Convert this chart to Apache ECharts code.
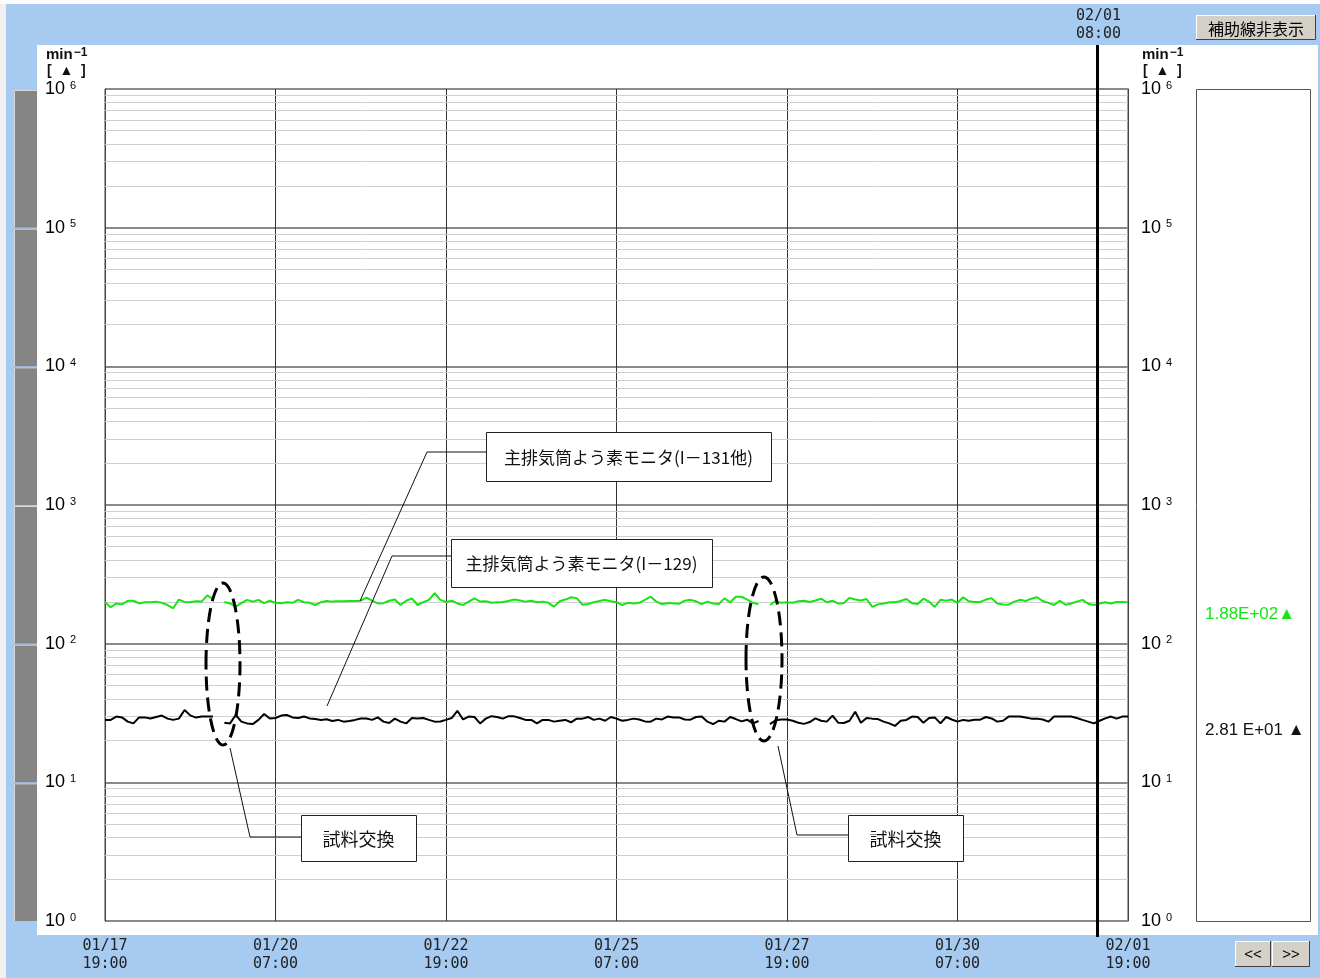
<!DOCTYPE html>
<html>
<head>
<meta charset="utf-8">
<script src="https://cdn.jsdelivr.net/npm/echarts@6/dist/echarts.min.js"></script>
<style>
html,body{margin:0;padding:0;background:#a6caf0;}
#main{width:1320px;height:978px;}
</style>
</head>
<body>
<div id="main"></div>
<script>
var chartDom = document.getElementById('main');
var myChart = echarts.init(chartDom);

// x = hours since 01/17 19:00, one sample every 2 hours
var stepHours = 2;
var xLabels = ['01/17\n19:00', '01/20\n07:00', '01/22\n19:00', '01/25\n07:00', '01/27\n19:00', '01/30\n07:00', '02/01\n19:00'];
var cursorHour = 349;
var cursorLabel = '02/01\n08:00';

// min^-1 (null = sample exchange)
var i131 = [199,183,195,192,204,204,195,199,199,201,197,190,180,208,200,199,202,201,223,210,
  null,
  200,195,185,196,207,201,207,196,204,197,196,199,197,207,199,197,190,199,203,201,202,202,203,203,204,215,204,195,196,204,208,190,204,212,190,199,207,231,207,200,204,195,
  190,201,212,201,202,197,199,200,203,208,205,201,204,199,201,197,185,202,208,216,213,191,193,199,203,207,202,199,190,197,195,197,207,218,201,193,196,196,194,204,207,202,193,201,195,193,212,199,218,218,208,197,192,
  null,
  190,203,197,199,197,
  202,204,200,205,211,199,204,195,196,214,208,205,210,184,192,195,199,199,203,210,196,193,211,201,184,207,204,208,197,216,202,200,200,208,213,195,192,191,201,207,203,211,216,203,197,190,204,191,195,201,207,194,190,195,199,195,200,200,199];

var i129 = [28.2,28.2,29.8,29.4,27.4,26.6,29.4,29.4,28.9,29.6,30.3,28.8,28.2,28.8,33.2,30.4,29.3,29.8,29.8,29.8,
  null,
  26.9,26.6,30.6,27.4,26.6,26.3,28.2,31.1,28.9,29.1,30.3,30.6,29.4,29.1,29.8,28.9,28.6,28.2,28.5,27.7,28.2,27.4,27.7,28.2,28.9,28.9,28.2,29.4,27.4,26.8,28.8,27.4,26.6,29.1,28.9,29.1,28.2,27.4,27.5,28.2,29.1,32.8,
  28.4,29.8,29.6,26.6,28.8,30.0,29.6,28.8,30.0,29.9,29.1,28.2,28.2,26.6,28.2,28.2,27.4,27.8,28.2,27.1,28.8,28.8,29.6,28.2,28.8,27.8,29.6,28.8,27.8,28.2,28.8,28.4,27.5,27.4,28.8,28.4,29.8,29.3,29.4,28.4,28.3,29.6,29.8,27.4,26.3,27.8,27.4,29.6,28.6,27.5,28.3,26.6,27.7,
  null,
  26.3,28.0,28.4,28.4,27.8,
  26.9,26.4,27.2,28.9,27.8,27.4,30.3,26.9,26.8,27.8,32.3,26.9,29.1,28.8,28.6,27.4,26.6,25.5,27.8,28.2,29.8,29.6,26.9,29.1,29.4,26.6,29.6,28.4,27.4,28.2,27.8,28.3,28.3,29.6,28.9,27.4,27.8,29.8,29.8,29.8,29.3,28.8,28.8,28.4,27.4,29.8,29.8,29.8,29.8,29.1,28.2,27.4,26.6,27.8,28.9,29.8,28.8,29.8,29.8];

var readout131 = 1.88e2, readoutText131 = '1.88E+02▲';
var readout129 = 2.81e1, readoutText129 = '2.81 E+01 ▲';
var name131 = '主排気筒よう素モニタ(I－131他)';
var name129 = '主排気筒よう素モニタ(I－129)';
var exchangeText = '試料交換';

// 2..9 x 10^k helper lines of the log grid
var minorGrid = [];
for (var k = 0; k < 6; k++) {
  for (var m = 2; m <= 9; m++) minorGrid.push(m * Math.pow(10, k));
}

var GREEN = '#14e614';
var sansFont = '"Liberation Sans", Arial, sans-serif';
var jpFont = '"Noto Sans CJK JP", sans-serif';
var monoFont = '"DejaVu Sans Mono", monospace';

function toPairs(arr) {
  return arr.map(function (v, i) { return [i * stepHours, v]; });
}

function logLabel(v) {
  return '{b|10}{s|' + Math.round(Math.log10(v)) + '}';
}
var logRich = {
  b: { fontSize: 18, fontFamily: sansFont, color: '#000', lineHeight: 18 },
  s: { fontSize: 11, fontFamily: sansFont, color: '#000', lineHeight: 11, verticalAlign: 'top', padding: [0, 0, 0, 5] }
};

var option = {
  backgroundColor: '#a6caf0',
  animation: false,
  grid: { left: 105, top: 89, width: 1023, height: 832, show: true, borderColor: '#444', borderWidth: 1 },
  xAxis: {
    type: 'value', min: 0, max: 360, interval: 60,
    axisLine: { show: false }, axisTick: { show: false },
    splitLine: { show: true, lineStyle: { color: '#333', width: 1 } },
    axisLabel: {
      margin: 16, showMinLabel: true, showMaxLabel: true,
      fontFamily: monoFont, fontSize: 15, lineHeight: 18, color: '#222',
      formatter: function (v) { return xLabels[Math.round(v / 60)]; }
    }
  },
  yAxis: [
    {
      type: 'log', logBase: 10, min: 1, max: 1000000, splitNumber: 6,
      axisLine: { show: true, lineStyle: { color: '#444' } }, axisTick: { show: false },
      splitLine: { show: true, lineStyle: { color: '#8a8a8a', width: 2 } },
      axisLabel: { align: 'left', margin: 60, formatter: logLabel, rich: logRich }
    },
    {
      type: 'log', logBase: 10, min: 1, max: 1000000, splitNumber: 6, position: 'right',
      axisLine: { show: true, lineStyle: { color: '#444' } }, axisTick: { show: false },
      splitLine: { show: false },
      axisLabel: { align: 'left', margin: 13, formatter: logLabel, rich: logRich }
    }
  ],
  series: [
    {
      name: 'minor', type: 'line', data: [], silent: true, z: 1,
      markLine: {
        silent: true, symbol: ['none', 'none'], label: { show: false },
        lineStyle: { color: '#cfcfcf', width: 1, type: 'solid' },
        emphasis: { disabled: true },
        data: minorGrid.map(function (v) { return { yAxis: v }; })
      }
    },
    {
      name: name131, type: 'line', data: toPairs(i131), showSymbol: false, connectNulls: false, z: 5,
      lineStyle: { color: GREEN, width: 2 }, itemStyle: { color: GREEN }
    },
    {
      name: name129, type: 'line', data: toPairs(i129), showSymbol: false, connectNulls: false, z: 5,
      lineStyle: { color: '#000', width: 2 }, itemStyle: { color: '#000' }
    }
  ]
};
myChart.setOption(option);

function xPx(h) { return myChart.convertToPixel({ xAxisIndex: 0 }, h); }
function yPx(v) { return myChart.convertToPixel({ yAxisIndex: 0 }, v); }

var g = [];
function txt(x, y, text, font, fill, align, valign, z, rich, lineHeight) {
  var st = { text: text, font: font, fill: fill, align: align, verticalAlign: valign };
  if (rich) st.rich = rich;
  if (lineHeight) st.lineHeight = lineHeight;
  g.push({ type: 'text', x: x, y: y, z: z || 60, style: st, silent: true });
}
function button(x, y, w, h, text, font) {
  g.push({ type: 'rect', z: 60, shape: { x: x, y: y, width: w, height: h }, style: { fill: '#d4d0c8' } });
  g.push({ type: 'polyline', z: 61, shape: { points: [[x + 0.5, y + h], [x + 0.5, y + 0.5], [x + w, y + 0.5]] }, style: { stroke: '#ffffff', fill: null } });
  g.push({ type: 'polyline', z: 61, shape: { points: [[x, y + h - 0.5], [x + w - 0.5, y + h - 0.5], [x + w - 0.5, y]] }, style: { stroke: '#404040', fill: null } });
  txt(x + w / 2, y + h / 2 + 1, text, font, '#000', 'center', 'middle', 62);
}
function callout(x, y, w, h, text, font, points) {
  g.push({ type: 'polyline', z: 50, shape: { points: points }, style: { stroke: '#111', lineWidth: 1, fill: null } });
  g.push({ type: 'rect', z: 51, shape: { x: x + 0.5, y: y + 0.5, width: w, height: h }, style: { fill: '#fff', stroke: '#222', lineWidth: 1 } });
  txt(x + w / 2, y + h / 2 + 1, text, font, '#111', 'center', 'middle', 52);
}

// frame of the window
g.push({ type: 'rect', z: -10, shape: { x: 37, y: 45, width: 1281, height: 890 }, style: { fill: '#fff' } });
g.push({ type: 'rect', z: -10, shape: { x: 0, y: 0, width: 6, height: 978 }, style: { fill: '#f0f0f0' } });
g.push({ type: 'rect', z: -10, shape: { x: 0, y: 0, width: 1320, height: 4 }, style: { fill: '#fcfcfc' } });

// left scroll segments, one per decade
for (var d = 0; d < 6; d++) {
  var segTop = yPx(Math.pow(10, d + 1)), segBot = yPx(Math.pow(10, d));
  g.push({ type: 'rect', z: 1, shape: { x: 14, y: segTop, width: 23, height: segBot - segTop }, style: { fill: '#858585' } });
  g.push({ type: 'polyline', z: 2, shape: { points: [[14.5, segBot], [14.5, segTop + 1.5], [37, segTop + 1.5]] }, style: { stroke: '#d8d8d8', lineWidth: 1, fill: null } });
  g.push({ type: 'line', z: 2, shape: { x1: 14, y1: segTop + 0.5, x2: 37, y2: segTop + 0.5 }, style: { stroke: '#a6caf0', lineWidth: 1 } });
}

// unit labels
var unitRich = {
  m: { fontSize: 15, fontWeight: 'bold', fontFamily: sansFont, fill: '#111', lineHeight: 16 },
  s: { fontSize: 12, fontWeight: 'bold', fontFamily: sansFont, fill: '#111', lineHeight: 10, verticalAlign: 'top', padding: [0, 0, 0, 1] }
};
[46, 1142].forEach(function (ux) {
  txt(ux, 47, '{m|min}{s|−1}', '15px ' + sansFont, '#111', 'left', 'top', 60, unitRich);
  txt(ux + 1, 64, '[  ▲  ]', 'bold 14px ' + sansFont, '#111', 'left', 'top', 60);
});

// cursor
var cx = Math.round(xPx(cursorHour)) + 0.5;
g.push({ type: 'line', z: 40, shape: { x1: cx, y1: 45, x2: cx, y2: 937 }, style: { stroke: '#000', lineWidth: 3 } });
txt(cx + 1, 7, cursorLabel, '15px ' + monoFont, '#222', 'center', 'top', 60, null, 18);

// readout box
g.push({ type: 'rect', z: 10, shape: { x: 1196.5, y: 89.5, width: 114, height: 832 }, style: { fill: '#fff', stroke: '#555', lineWidth: 1 } });
txt(1205, yPx(readout131) + 9, readoutText131, '17px ' + sansFont, GREEN, 'left', 'middle', 60);
txt(1205, yPx(readout129) + 10, readoutText129, '17px ' + sansFont, '#111', 'left', 'middle', 60);

// buttons
button(1196, 15, 120, 25, '補助線非表示', '16px ' + jpFont);
button(1235, 941, 36, 26, '<<', '15px ' + sansFont);
button(1272, 941, 38, 26, '>>', '15px ' + sansFont);

// callouts
callout(486, 432, 285, 49, name131, '17px ' + jpFont, [[486, 452], [427, 452], [360, 601]]);
callout(451, 539, 261, 48, name129, '17px ' + jpFont, [[451, 556], [392, 556], [327, 706]]);
callout(301, 815, 115, 46, exchangeText, '18px ' + jpFont, [[301, 837], [250, 837], [230, 748]]);
callout(848, 815, 115, 46, exchangeText, '18px ' + jpFont, [[848, 835], [797, 835], [778, 746]]);

// sample exchange marks
g.push({ type: 'ellipse', z: 45, shape: { cx: 223, cy: 664, rx: 17, ry: 81 }, style: { fill: null, stroke: '#000', lineWidth: 3, lineDash: [14, 7] } });
g.push({ type: 'ellipse', z: 45, shape: { cx: 764, cy: 659, rx: 18, ry: 82 }, style: { fill: null, stroke: '#000', lineWidth: 3, lineDash: [14, 7] } });

myChart.setOption({ graphic: { elements: g } });
</script>
</body>
</html>
